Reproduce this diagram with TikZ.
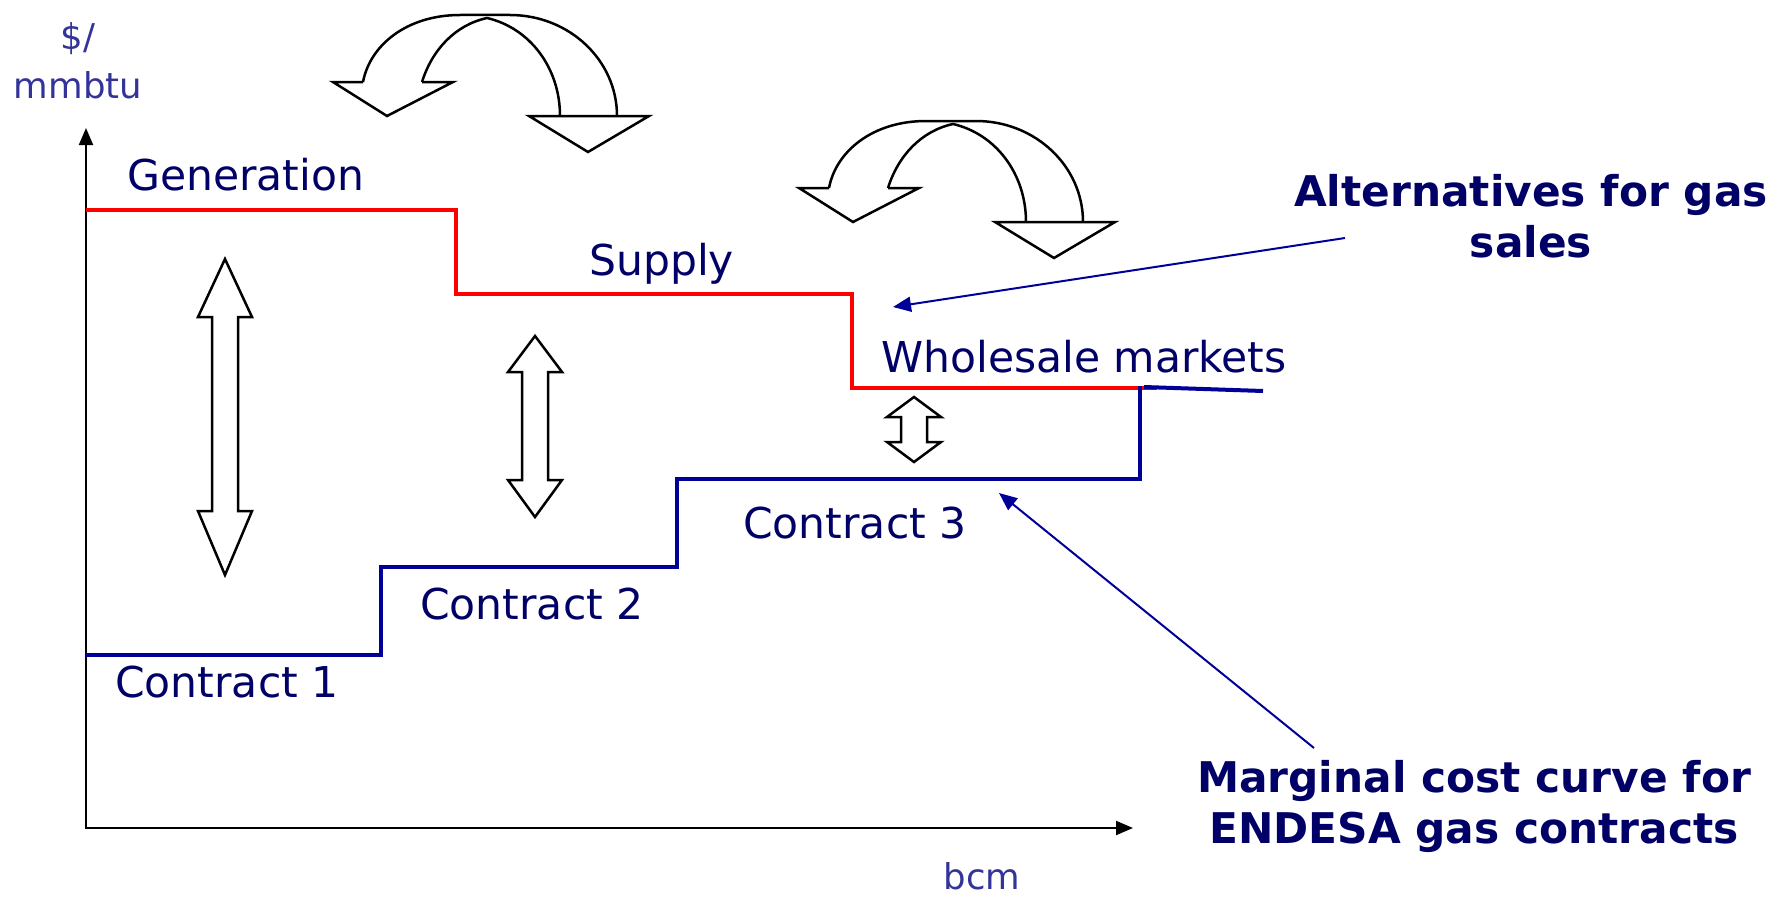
\documentclass[tikz,border=0pt]{standalone}
\usepackage{fontspec}
\setmainfont{DejaVu Sans}
\usetikzlibrary{arrows.meta}
\definecolor{navy}{HTML}{000066}
\definecolor{curveblue}{HTML}{000099}
\definecolor{unitblue}{HTML}{333399}
\tikzset{
  lbl/.style={text=navy, font=\fontsize{42.5}{50}\selectfont, inner sep=0pt, anchor=base west},
  note/.style={text=navy, font=\fontsize{42.3}{51}\selectfont\bfseries, align=center, inner sep=0pt},
  unit/.style={text=unitblue, font=\fontsize{35.5}{49}\selectfont, align=center, inner sep=0pt},
  axis/.style={line width=2pt, {Triangle[length=17pt,width=14pt]}-{Triangle[length=17pt,width=14pt]}},
  block/.style={draw=black, line width=2.5pt, line join=miter},
  pointer/.style={draw=curveblue, line width=2pt, -{Triangle[length=18pt,width=15pt]}},
  redstep/.style={draw=red, line width=4pt},
  bluestep/.style={draw=curveblue, line width=4pt},
}
\begin{document}
\begin{tikzpicture}[x=1pt,y=-1pt]
  \useasboundingbox (0,0) rectangle (1776,899);
  % axes
  \coordinate (origin) at (86,828);
  \coordinate (ytip) at (86,128);
  \coordinate (xtip) at (1133,828);
  \draw[axis] (ytip) -- (origin) -- (xtip);
  \node[unit] (price) at (78,61) {\$/\\mmbtu};
  \node[unit, anchor=base] (volume) at (982,889) {bcm};
  % alternatives (red) and contracts (blue)
  \draw[redstep] (86,210) -- (456,210) -- (456,294) -- (852,294) -- (852,388) -- (1157,388);
  \draw[bluestep] (86,655) -- (381,655) -- (381,567) -- (677,567) -- (677,479) -- (1140,479) -- (1140,386);
  \draw[bluestep] (1144,387) -- (1263,391);
  % labels
  \node[lbl] (generation) at (127,190) {Generation};
  \node[lbl] (supply) at (589,275) {Supply};
  \node[lbl] (wholesale) at (881,372) {Wholesale markets};
  \node[lbl] (contract3) at (743,538) {Contract 3};
  \node[lbl] (contract2) at (420,619) {Contract 2};
  \node[lbl] (contract1) at (115,697) {Contract 1};
  % block double arrows
  \foreach \x/\top/\upper/\lower/\bot in {225/259/317/511/575, 535/336/372/480/517, 914/397/417/442/462}{
    \draw[block] (\x,\top) -- (\x+27,\upper) -- (\x+13,\upper) -- (\x+13,\lower) -- (\x+27,\lower)
      -- (\x,\bot) -- (\x-27,\lower) -- (\x-13,\lower) -- (\x-13,\upper) -- (\x-27,\upper) -- cycle;
  }
  % curved swap arrows
  \foreach \dx/\dy in {0/0, 466/106}{
    \begin{scope}[shift={(\dx,\dy)}, line width=2.5pt, line join=miter]
      \draw (363,82) .. controls (370,45) and (407,15) .. (460,15) -- (510,15)
        .. controls (569,15) and (617,60) .. (617,116);
      \draw (422,82) .. controls (432,50) and (455,25) .. (487,18)
        .. controls (530,28) and (560,68) .. (560,116);
      \draw (363,82) -- (333,82) -- (387,116) -- (453,82) -- (422,82);
      \draw (529,116) -- (649,116) -- (588,152) -- cycle;
    \end{scope}
  }
  % notes
  \node[note] (alternatives) at (1531,216) {Alternatives for gas\\sales};
  \node[note] (marginal) at (1474,806) {Marginal cost curve for\\ENDESA gas contracts};
  \coordinate (altfrom) at (1345,238);
  \coordinate (altto) at (893,307);
  \coordinate (margfrom) at (1314,748);
  \coordinate (margto) at (999,493);
  \draw[pointer] (altfrom) -- (altto);
  \draw[pointer] (margfrom) -- (margto);
\end{tikzpicture}
\end{document}
